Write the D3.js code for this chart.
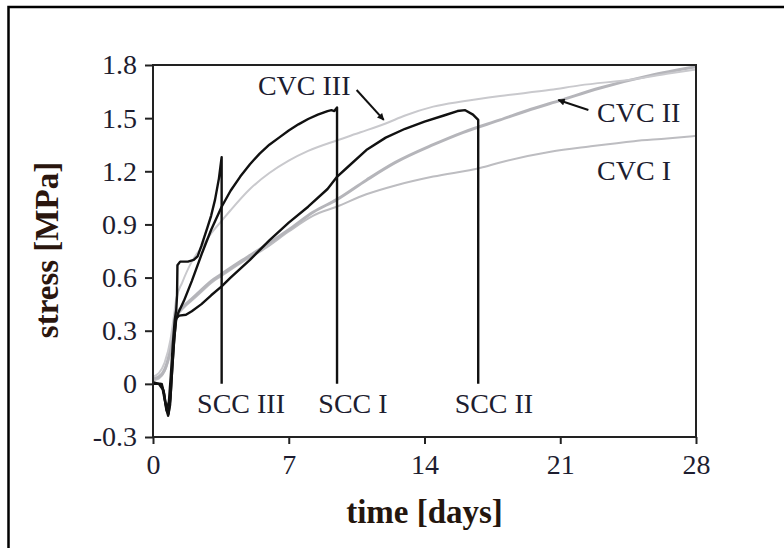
<!DOCTYPE html>
<html><head><meta charset="utf-8">
<script src="https://cdn.jsdelivr.net/npm/d3@7/dist/d3.min.js"></script>
<style>
html,body{margin:0;padding:0;background:#fff;}
svg{display:block;}
text{font-family:"Liberation Serif","Times New Roman",serif;}
</style></head>
<body>
<svg id="chart" width="784" height="548"></svg>
<script>
// ---- data (time in days, stress in MPa) ----
const xTicks = [0, 7, 14, 21, 28];
const yTicks = [-0.3, 0, 0.3, 0.6, 0.9, 1.2, 1.5, 1.8];

const sccI = [[0,0],[0.4,0],[0.55,-0.04],[0.68,-0.14],[0.78,-0.18],[0.88,-0.12],[0.97,0.05],[1.07,0.22],[1.18,0.36],[1.3,0.4],[1.6,0.47],[2.0,0.58],[2.5,0.73],[3.0,0.87],[3.54,1.0],[4.0,1.09],[4.5,1.17],[5.0,1.24],[5.5,1.3],[6.0,1.35],[6.5,1.39],[7.0,1.43],[7.5,1.465],[8.0,1.495],[8.5,1.52],[9.0,1.54],[9.2,1.545],[9.35,1.54],[9.49,1.56],[9.49,0]];
const sccII = [[0,0],[0.45,0],[0.58,-0.06],[0.7,-0.15],[0.8,-0.17],[0.9,-0.08],[1.0,0.1],[1.1,0.26],[1.2,0.37],[1.35,0.385],[1.7,0.39],[2.0,0.41],[2.5,0.45],[3.0,0.5],[3.54,0.55],[4.0,0.6],[5.0,0.7],[6.0,0.81],[7.0,0.91],[8.0,1.0],[9.0,1.1],[9.5,1.17],[10.0,1.22],[11.0,1.32],[12.0,1.39],[13.0,1.44],[14.0,1.48],[15.0,1.515],[15.7,1.54],[16.1,1.545],[16.5,1.52],[16.77,1.49],[16.77,0]];
const sccIII = [[0,0.01],[0.3,0],[0.5,-0.03],[0.62,-0.1],[0.72,-0.14],[0.82,-0.1],[0.92,0.05],[1.02,0.22],[1.12,0.36],[1.2,0.42],[1.24,0.5],[1.26,0.67],[1.4,0.69],[1.8,0.69],[2.1,0.7],[2.3,0.72],[2.5,0.78],[2.8,0.88],[3.0,0.95],[3.2,1.04],[3.4,1.16],[3.54,1.28],[3.54,0]];

const cvcI = [[0,0.02],[0.3,0.03],[0.6,0.07],[0.9,0.18],[1.1,0.31],[1.25,0.38],[1.6,0.43],[2.0,0.47],[2.5,0.52],[3.0,0.57],[3.54,0.61],[4.5,0.68],[5.86,0.77],[7.0,0.86],[8.27,0.95],[9.47,1.0],[11.0,1.07],[12.5,1.12],[14.45,1.17],[16.9,1.22],[17.9,1.25],[20.5,1.31],[22.5,1.34],[24.8,1.37],[26.5,1.385],[28,1.40]];
const cvcII = [[0,0.03],[0.3,0.04],[0.6,0.08],[0.9,0.2],[1.1,0.33],[1.25,0.4],[1.6,0.44],[2.0,0.48],[2.5,0.53],[3.0,0.58],[3.54,0.62],[4.5,0.69],[5.86,0.785],[7.0,0.87],[8.27,0.97],[9.47,1.04],[11.0,1.15],[12.5,1.25],[14.45,1.35],[16.0,1.42],[17.9,1.49],[19.5,1.55],[21.0,1.6],[23.05,1.67],[25.6,1.74],[28,1.79]];
const cvcIII = [[0,0.04],[0.3,0.06],[0.6,0.12],[0.9,0.25],[1.1,0.4],[1.2,0.48],[1.5,0.57],[2.0,0.69],[2.5,0.77],[3.0,0.85],[3.54,0.92],[4.0,0.98],[5.0,1.1],[6.0,1.19],[7.0,1.26],[8.0,1.315],[9.5,1.375],[10.7,1.42],[12.0,1.47],[13.0,1.515],[14.45,1.565],[16.0,1.595],[17.9,1.625],[20.5,1.66],[22.0,1.685],[24.8,1.72],[26.5,1.75],[28,1.775]];

// annotations
const labelText = ["SCC III", "SCC I", "SCC II", "CVC III", "CVC II", "CVC I"];
const labelPos = [[4.54,-0.165,"middle"],[10.31,-0.165,"middle"],[17.58,-0.165,"middle"],[5.41,1.631,"start"],[22.9,1.478,"start"],[22.9,1.151,"start"]];
const arrows = [[[10.5,1.659],[11.9,1.49]], [[22.45,1.546],[20.9,1.602]]];

// ---- drawing ----
const svg = d3.select("#chart");
const pLeft = 153, pRight = 696, pTop = 65, pBottom = 437;

const x = d3.scaleLinear().domain([0, 28]).range([pLeft, pRight]);
const y = d3.scaleLinear().domain([-0.3, 1.8]).range([pBottom, pTop]);

// outer frame
svg.append("rect").attr("x", 8.5).attr("y", 7).attr("width", 800).attr("height", 600)
  .attr("fill", "none").attr("stroke", "#000").attr("stroke-width", 2.5);

const defs = svg.append("defs");
defs.append("marker").attr("id", "ah").attr("viewBox", "0 0 10 10").attr("refX", 9).attr("refY", 5)
  .attr("markerWidth", 9).attr("markerHeight", 7).attr("markerUnits", "userSpaceOnUse").attr("orient", "auto")
  .append("path").attr("d", "M0,0 L10,5 L0,10 Z").attr("fill", "#111");

const lineSharp = d3.line().x(d => x(d[0])).y(d => y(d[1])).curve(d3.curveLinear);
const lineSmooth = d3.line().x(d => x(d[0])).y(d => y(d[1])).curve(d3.curveMonotoneX);

const grey = [
  {data: cvcI, color: "#bdbdc1", w: 2},
  {data: cvcII, color: "#b5b5ba", w: 3},
  {data: cvcIII, color: "#c9c9cd", w: 2}
];
const black = [sccII, sccI, sccIII];

svg.append("g").selectAll("path").data(grey).join("path")
  .attr("d", d => lineSmooth(d.data)).attr("fill", "none").attr("stroke", d => d.color)
  .attr("stroke-width", d => d.w).attr("stroke-linejoin", "round");

svg.append("g").selectAll("path").data(black).join("path")
  .attr("d", d => lineSharp(d)).attr("fill", "none").attr("stroke", "#111")
  .attr("stroke-width", 2.4).attr("stroke-linejoin", "round");

// axes
const fmt = d => d === 0 ? "0" : d.toFixed(1);
const gy = svg.append("g").attr("transform", `translate(${pLeft},0)`)
  .call(d3.axisLeft(y).tickValues(yTicks).tickFormat(fmt).tickSize(8).tickSizeOuter(0).tickPadding(8));
const gx = svg.append("g").attr("transform", `translate(0,${pBottom})`)
  .call(d3.axisBottom(x).tickValues(xTicks).tickSize(7).tickSizeOuter(0).tickPadding(10));
[gx, gy].forEach(g => {
  g.select(".domain").remove();
  g.selectAll(".tick line").attr("stroke", "#222").attr("stroke-width", 2);
  g.selectAll(".tick text").attr("font-family", "Liberation Serif").attr("font-size", 28).attr("fill", "#1d1d30");
});
gx.selectAll(".tick text").attr("dy", "0.71em");

// plot frame
svg.append("rect").attr("x", pLeft).attr("y", pTop).attr("width", pRight - pLeft).attr("height", pBottom - pTop)
  .attr("fill", "none").attr("stroke", "#222").attr("stroke-width", 2);

// annotations
svg.append("g").selectAll("text").data(labelText).join("text")
  .attr("x", (d, i) => x(labelPos[i][0])).attr("y", (d, i) => y(labelPos[i][1]))
  .attr("text-anchor", (d, i) => labelPos[i][2])
  .attr("font-size", 28).attr("fill", "#1d1d30").text(d => d);

svg.append("g").selectAll("line").data(arrows).join("line")
  .attr("x1", d => x(d[0][0])).attr("y1", d => y(d[0][1]))
  .attr("x2", d => x(d[1][0])).attr("y2", d => y(d[1][1]))
  .attr("stroke", "#111").attr("stroke-width", 2).attr("marker-end", "url(#ah)");

// axis titles
svg.append("text").attr("x", (pLeft + pRight) / 2).attr("y", 523).attr("text-anchor", "middle")
  .attr("font-size", 33).attr("font-weight", "bold").attr("fill", "#24160e").text("time [days]");
svg.append("text").attr("transform", "translate(58,250) rotate(-90)").attr("text-anchor", "middle")
  .attr("font-size", 33).attr("font-weight", "bold").attr("fill", "#2a160e").text("stress [MPa]");
</script>
</body></html>
